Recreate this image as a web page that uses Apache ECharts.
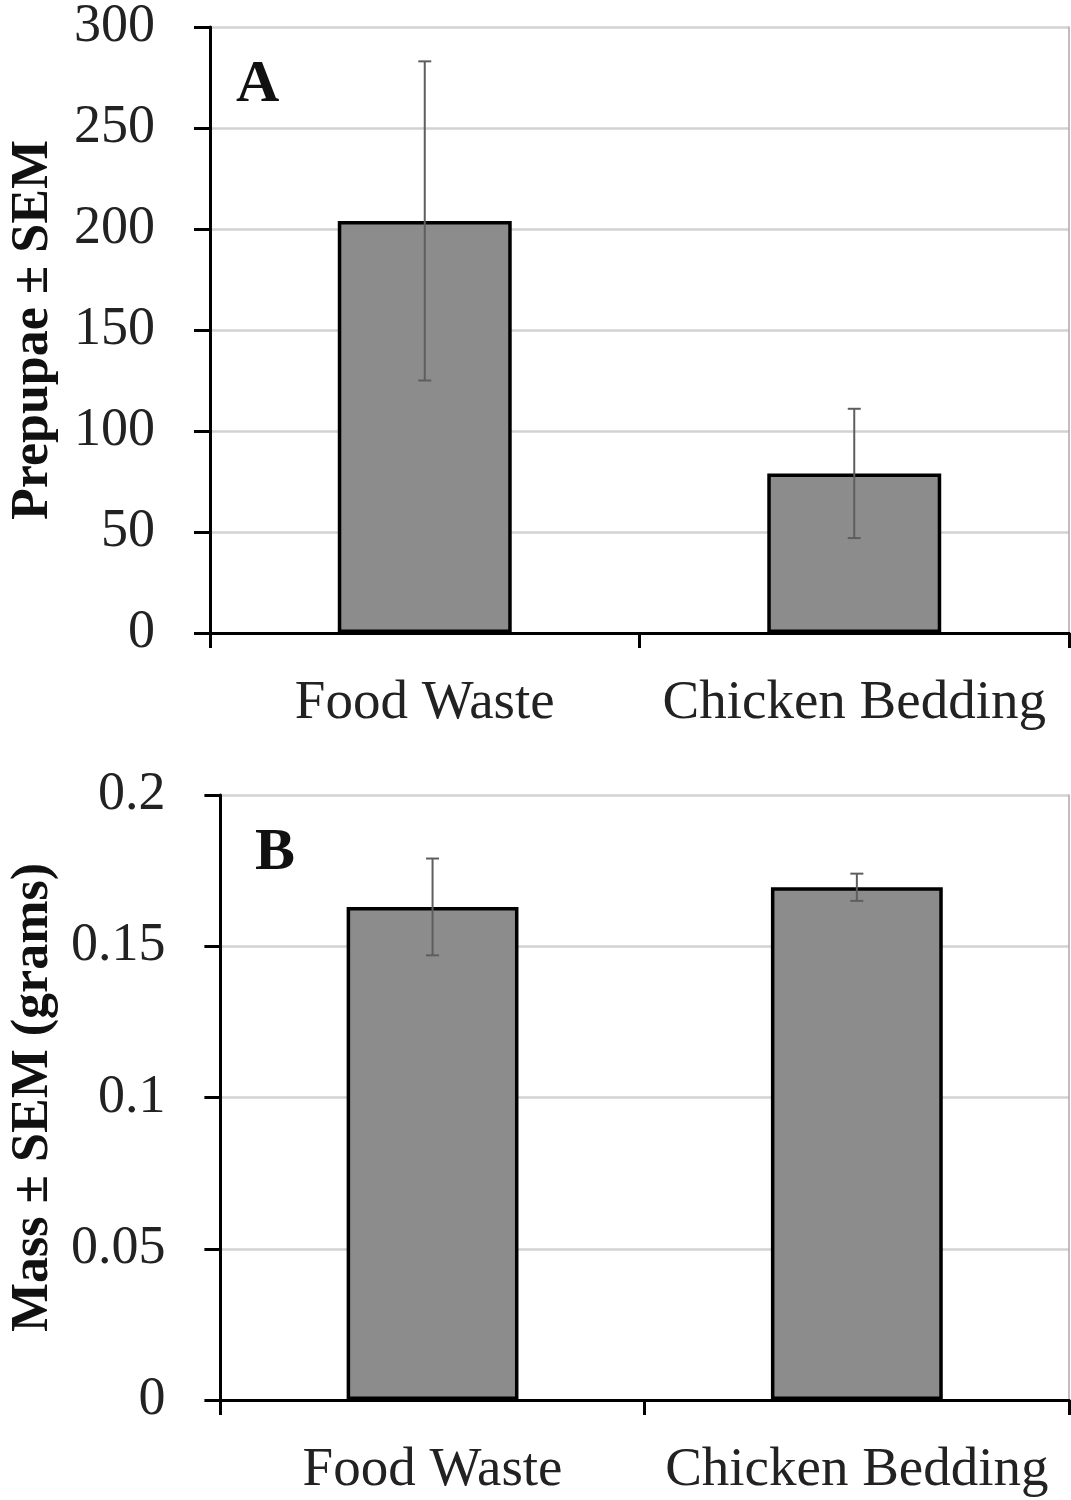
<!DOCTYPE html>
<html>
<head>
<meta charset="utf-8">
<script src="https://cdn.jsdelivr.net/npm/echarts@6/dist/echarts.min.js"></script>
<style>
html,body{margin:0;padding:0;background:#fff;}
#chart{width:1071px;height:1500px;}
</style>
</head>
<body>
<div id="chart"></div>
<script>
// ---- Data ----
var categories = ['Food Waste', 'Chicken Bedding'];
var prepupaeMean = [204, 79];
var prepupaeSEM = [79, 32];
var massMean = [0.163, 0.1695];
var massSEM = [0.016, 0.0045];
var prepupaeTicks = {min: 0, max: 300, interval: 50};
var massTicks = {min: 0, max: 0.2, interval: 0.05};
var panelLabels = ['A', 'B'];
var yTitles = ['Prepupae \u00b1 SEM', 'Mass \u00b1 SEM (grams)'];

var FONT = '"Liberation Serif", "Times New Roman", serif';
var chart = echarts.init(document.getElementById('chart'), null, {renderer: 'canvas'});

function errData(means, sems) {
  return means.map(function (m, i) { return [i, m - sems[i], m + sems[i]]; });
}

function errRender(params, api) {
  var x = api.value(0);
  var lo = api.coord([x, api.value(1)]);
  var hi = api.coord([x, api.value(2)]);
  var hw = 6.5;
  var style = {stroke: '#5e5e5e', lineWidth: 2, fill: null};
  return {
    type: 'group',
    children: [
      {type: 'line', shape: {x1: lo[0], y1: lo[1], x2: hi[0], y2: hi[1]}, style: style},
      {type: 'line', shape: {x1: lo[0] - hw, y1: lo[1], x2: lo[0] + hw, y2: lo[1]}, style: style},
      {type: 'line', shape: {x1: hi[0] - hw, y1: hi[1], x2: hi[0] + hw, y2: hi[1]}, style: style}
    ]
  };
}

function xAxes(gridIndex) {
  return [
    {
      type: 'category', gridIndex: gridIndex, data: categories, position: 'bottom',
      boundaryGap: true,
      axisLine: {lineStyle: {color: '#000', width: 3}},
      axisTick: {show: true, interval: 0, length: 15, lineStyle: {color: '#000', width: 3}},
      axisLabel: {interval: 0, margin: 43, color: '#222', fontFamily: FONT, fontSize: 55}
    },
    {
      type: 'category', gridIndex: gridIndex, data: categories, position: 'top',
      axisLine: {lineStyle: {color: '#000', width: 3}},
      axisTick: {show: false}, axisLabel: {show: false}
    }
  ];
}

function yAxes(gridIndex, t, name, gap) {
  return [
    {
      type: 'value', gridIndex: gridIndex, position: 'left',
      min: t.min, max: t.max, interval: t.interval,
      axisLine: {show: true, lineStyle: {color: '#000', width: 3}},
      axisTick: {show: true, length: 16, lineStyle: {color: '#000', width: 3}},
      axisLabel: {margin: 55, color: '#222', fontFamily: FONT, fontSize: 54},
      splitLine: {show: true, lineStyle: {color: '#d2d2d2', width: 2.5}},
      name: name, nameLocation: 'middle', nameRotate: 90, nameGap: gap,
      nameTextStyle: {fontFamily: FONT, fontSize: 52, fontWeight: 'bold', color: '#111'}
    },
    {
      type: 'value', gridIndex: gridIndex, position: 'right',
      min: t.min, max: t.max, interval: t.interval,
      axisLine: {show: true, lineStyle: {color: '#aaa', width: 1.5}},
      axisTick: {show: false}, axisLabel: {show: false}, splitLine: {show: false}
    }
  ];
}

var option = {
  animation: false,
  backgroundColor: '#fff',
  grid: [
    {left: 205, right: 2, top: 27, height: 606},
    {left: 215, right: 2, top: 795, height: 605}
  ],
  xAxis: xAxes(0).concat(xAxes(1)),
  yAxis: yAxes(0, prepupaeTicks, yTitles[0], 150).concat(yAxes(1, massTicks, yTitles[1], 158)),
  graphic: [
    {type: 'text', left: 236, top: 55, style: {text: panelLabels[0], font: 'bold 60px ' + FONT, fill: '#111'}},
    {type: 'text', left: 255, top: 823, style: {text: panelLabels[1], font: 'bold 60px ' + FONT, fill: '#111'}}
  ],
  series: [
    {
      type: 'bar', xAxisIndex: 0, yAxisIndex: 0, data: prepupaeMean, barWidth: '40.5%',
      itemStyle: {color: '#8c8c8c', borderColor: '#000', borderWidth: 3.5}
    },
    {
      type: 'custom', xAxisIndex: 0, yAxisIndex: 0, data: errData(prepupaeMean, prepupaeSEM),
      renderItem: errRender, z: 10
    },
    {
      type: 'bar', xAxisIndex: 2, yAxisIndex: 2, data: massMean, barWidth: '40.5%',
      itemStyle: {color: '#8c8c8c', borderColor: '#000', borderWidth: 3.5}
    },
    {
      type: 'custom', xAxisIndex: 2, yAxisIndex: 2, data: errData(massMean, massSEM),
      renderItem: errRender, z: 10
    }
  ]
};
chart.setOption(option);
</script>
</body>
</html>
